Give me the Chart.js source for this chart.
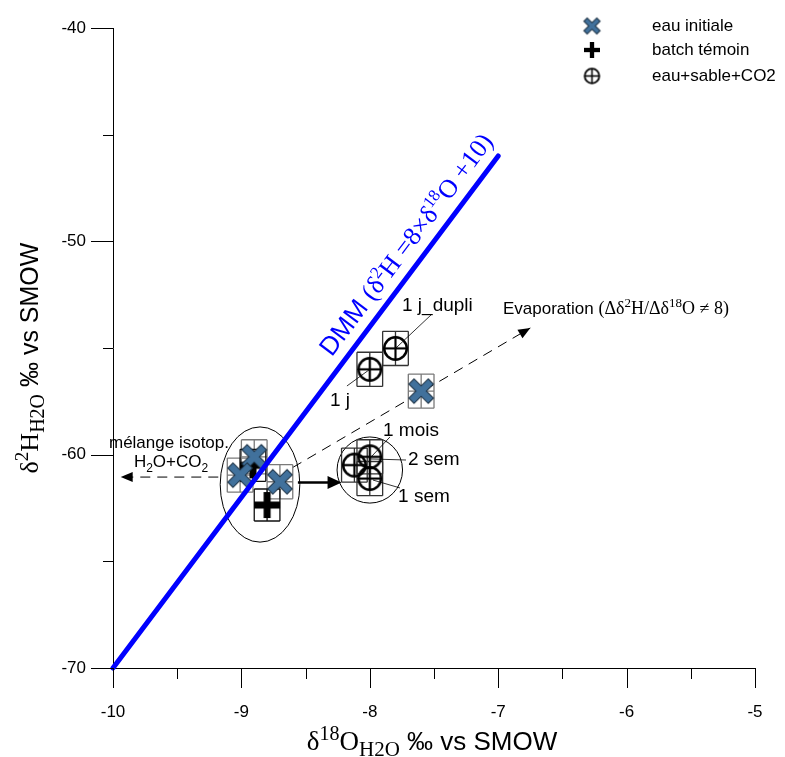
<!DOCTYPE html>
<html>
<head>
<meta charset="utf-8">
<script src="https://cdn.jsdelivr.net/npm/chart.js@4.4.0/dist/chart.umd.min.js"></script>
<style>
  html, body { margin: 0; padding: 0; background: #fff; }
  #wrap { width: 785px; height: 757px; }
</style>
</head>
<body>
<div id="wrap"><canvas id="c"></canvas></div>
<script>
// --- DATA ---
const initX = [-8.90, -9.01, -8.70, -7.60];
const initY = [-60.10, -60.96, -61.27, -57.02];
const initErrX = [0.1, 0.1, 0.1, 0.1];
const initErrY = [0.8, 0.8, 0.8, 0.8];

const batchX = [-8.91, -8.80];
const batchY = [-60.50, -62.36];
const batchErrX = [0.1, 0.1];
const batchErrY = [0.75, 0.75];

const sableX = [-8.00, -7.80, -8.00, -8.12, -8.00];
const sableY = [-56.00, -55.02, -60.10, -60.49, -61.12];
const sableErrX = [0.1, 0.1, 0.1, 0.1, 0.1];
const sableErrY = [0.8, 0.8, 0.8, 0.8, 0.8];
const sableLabels = ['1 j', '1 j_dupli', '1 mois', '2 sem', '1 sem'];

const dmmX = [-10, -7];
const dmmY = [-70, -46];

const xTicks = [-10, -9, -8, -7, -6, -5];
const yTicks = [-70, -60, -50, -40];
const legendLabels = ['eau initiale', 'batch témoin', 'eau+sable+CO2'];

// --- ANNOTATIONS (data coords) ---
const labelNotes = [
    { at: [-8.31, -57.72], from: [-8.178, -56.78], to: [-8.00, -56.00] },
    { at: [-7.749, -53.27], from: [-7.80, -55.02], to: [-7.516, -53.41] },
    { at: [-7.897, -59.13], from: [-7.843, -59.17], to: [-7.998, -60.16] },
    { at: [-7.703, -60.48], from: [-8.00, -60.20], to: [-7.718, -60.25] },
    { at: [-7.78, -62.22], from: [-7.975, -61.19], to: [-7.765, -61.56] }
];
const groupEllipses = [
    { cx: -8.855, cy: -61.40, rx: 0.31, ry: 2.70 },
    { cx: -8.00, cy: -60.72, rx: 0.255, ry: 1.55 }
];

const SANS = '"Liberation Sans", Arial, sans-serif';
const SERIF = '"Liberation Serif", "Times New Roman", serif';
const BLUE_X = '#41719c';

// --- MARQUEURS ---
function makeMarker(type, s) {
    const cv = document.createElement('canvas');
    const size = Math.ceil(s + 4);
    cv.width = size; cv.height = size;
    const g = cv.getContext('2d');
    const c = size / 2;
    if (type === 'x') {
        const a = s * 0.36;
        g.lineCap = 'butt';
        g.strokeStyle = '#1e3346'; g.lineWidth = s * 0.3;
        g.beginPath(); g.moveTo(c - a, c - a); g.lineTo(c + a, c + a);
        g.moveTo(c + a, c - a); g.lineTo(c - a, c + a); g.stroke();
        const b = a - 0.8;
        g.strokeStyle = BLUE_X; g.lineWidth = s * 0.3 - 2;
        g.beginPath(); g.moveTo(c - b, c - b); g.lineTo(c + b, c + b);
        g.moveTo(c + b, c - b); g.lineTo(c - b, c + b); g.stroke();
    } else if (type === 'plus') {
        const a = s / 2, t = s * 0.27;
        g.fillStyle = '#000';
        g.fillRect(c - a, c - t / 2, 2 * a, t);
        g.fillRect(c - t / 2, c - a, t, 2 * a);
    } else {
        const r = s / 2 - 1.2;
        g.strokeStyle = '#000'; g.lineWidth = Math.max(1.8, s * 0.1);
        g.beginPath(); g.arc(c, c, r, 0, Math.PI * 2); g.stroke();
        g.lineWidth = Math.max(1.5, s * 0.08);
        g.beginPath(); g.moveTo(c - r, c); g.lineTo(c + r, c);
        g.moveTo(c, c - r); g.lineTo(c, c + r); g.stroke();
    }
    return cv;
}

const mkX = makeMarker('x', 28), mkPlus = makeMarker('plus', 26), mkCirc = makeMarker('circ', 25);
const legX = makeMarker('x', 19), legPlus = makeMarker('plus', 16), legCirc = makeMarker('circ', 17);

// --- HELPERS ---
function drawRich(ctx, parts, x, y, align) {
    let w = 0;
    parts.forEach(p => { ctx.font = p.f; w += ctx.measureText(p.t).width; });
    let cx = align === 'center' ? x - w / 2 : (align === 'right' ? x - w : x);
    ctx.textAlign = 'left';
    ctx.textBaseline = 'alphabetic';
    parts.forEach(p => {
        ctx.font = p.f;
        ctx.fillText(p.t, cx, y + (p.dy || 0));
        cx += ctx.measureText(p.t).width;
    });
}

function arrowHead(ctx, x1, y1, x2, y2, len, half) {
    const ang = Math.atan2(y2 - y1, x2 - x1);
    ctx.beginPath();
    ctx.moveTo(x2, y2);
    ctx.lineTo(x2 - len * Math.cos(ang) + half * Math.sin(ang), y2 - len * Math.sin(ang) - half * Math.cos(ang));
    ctx.lineTo(x2 - len * Math.cos(ang) - half * Math.sin(ang), y2 - len * Math.sin(ang) + half * Math.cos(ang));
    ctx.closePath();
    ctx.fill();
}

function errorBars(ctx, xs, ys, X, Y, EX, EY, color) {
    ctx.strokeStyle = color;
    ctx.lineWidth = 1.3;
    X.forEach((v, i) => {
        const cx = xs.getPixelForValue(v), cy = ys.getPixelForValue(Y[i]);
        const x0 = xs.getPixelForValue(v - EX[i]), x1 = xs.getPixelForValue(v + EX[i]);
        const y0 = ys.getPixelForValue(Y[i] + EY[i]), y1 = ys.getPixelForValue(Y[i] - EY[i]);
        ctx.beginPath();
        ctx.moveTo(cx, y0); ctx.lineTo(cx, y1);
        ctx.moveTo(x0, y0); ctx.lineTo(x1, y0);
        ctx.moveTo(x0, y1); ctx.lineTo(x1, y1);
        ctx.moveTo(x0, cy); ctx.lineTo(x1, cy);
        ctx.moveTo(x0, y0); ctx.lineTo(x0, y1);
        ctx.moveTo(x1, y0); ctx.lineTo(x1, y1);
        ctx.stroke();
    });
}

const toPts = (X, Y) => X.map((v, i) => ({ x: v, y: Y[i] }));

// --- PLUGIN DECOR ---
const decor = {
    id: 'decor',
    beforeDatasetsDraw(chart) {
        const ctx = chart.ctx, xs = chart.scales.x, ys = chart.scales.y;
        const P = (x, y) => [xs.getPixelForValue(x), ys.getPixelForValue(y)];
        ctx.save();
        // ellipses
        ctx.strokeStyle = '#000'; ctx.lineWidth = 1;
        groupEllipses.forEach(e => {
            const [cx, cy] = P(e.cx, e.cy);
            const rx = Math.abs(xs.getPixelForValue(e.cx + e.rx) - cx);
            const ry = Math.abs(ys.getPixelForValue(e.cy + e.ry) - cy);
            ctx.beginPath(); ctx.ellipse(cx, cy, rx, ry, 0, 0, Math.PI * 2); ctx.stroke();
        });
        // fleches pointillees
        ctx.fillStyle = '#000';
        ctx.setLineDash([10, 7]);
        let [a1, b1] = P(-8.6, -60.6), [a2, b2] = P(-6.75, -54.06);
        ctx.beginPath(); ctx.moveTo(a1, b1); ctx.lineTo(a2, b2); ctx.stroke();
        ctx.setLineDash([]);
        arrowHead(ctx, a1, b1, a2, b2, 12, 5);
        ctx.setLineDash([10, 7]);
        [a1, b1] = P(-9.18, -61.05); [a2, b2] = P(-9.94, -61.05);
        ctx.beginPath(); ctx.moveTo(a1, b1); ctx.lineTo(a2 + 8, b2); ctx.stroke();
        ctx.setLineDash([]);
        arrowHead(ctx, a1, b1, a2, b2, 12, 5);
        // fleche pleine
        ctx.lineWidth = 2.5;
        [a1, b1] = P(-8.56, -61.3); [a2, b2] = P(-8.22, -61.3);
        ctx.beginPath(); ctx.moveTo(a1, b1); ctx.lineTo(a2 - 8, b2); ctx.stroke();
        arrowHead(ctx, a1, b1, a2, b2, 14, 6.5);
        // barres d'erreur
        errorBars(ctx, xs, ys, initX, initY, initErrX, initErrY, '#7a7a7a');
        errorBars(ctx, xs, ys, batchX, batchY, batchErrX, batchErrY, '#111');
        errorBars(ctx, xs, ys, sableX, sableY, sableErrX, sableErrY, '#333');
        ctx.restore();
    },
    afterDraw(chart) {
        const ctx = chart.ctx, xs = chart.scales.x, ys = chart.scales.y;
        const P = (x, y) => [xs.getPixelForValue(x), ys.getPixelForValue(y)];
        const area = chart.chartArea;
        ctx.save();
        ctx.fillStyle = '#000'; ctx.strokeStyle = '#000'; ctx.lineWidth = 1;

        // graduations
        ctx.beginPath();
        for (let v = -10; v <= -5 + 1e-9; v += 0.5) {
            const px = Math.round(xs.getPixelForValue(v)) + 0.5;
            const major = Math.abs(v - Math.round(v)) < 1e-6;
            ctx.moveTo(px, area.bottom); ctx.lineTo(px, area.bottom + (major ? 20 : 11));
        }
        for (let v = -70; v <= -40; v += 5) {
            const py = Math.round(ys.getPixelForValue(v)) + 0.5;
            const major = v % 10 === 0;
            ctx.moveTo(area.left, py); ctx.lineTo(area.left - (major ? 22 : 10), py);
        }
        ctx.stroke();

        // etiquettes des points
        ctx.lineWidth = 0.8;
        labelNotes.forEach((n, i) => {
            const [fx, fy] = P(n.from[0], n.from[1]), [tx, ty] = P(n.to[0], n.to[1]);
            ctx.beginPath(); ctx.moveTo(fx, fy); ctx.lineTo(tx, ty); ctx.stroke();
            const [lx, ly] = P(n.at[0], n.at[1]);
            ctx.font = '19px ' + SANS; ctx.textAlign = 'left'; ctx.textBaseline = 'alphabetic';
            ctx.fillText(sableLabels[i], lx, ly);
        });

        // texte DMM
        const [d1x, d1y] = P(dmmX[0], dmmY[0]), [d2x, d2y] = P(dmmX[1], dmmY[1]);
        const th = Math.atan2(d2y - d1y, d2x - d1x);
        const [ax, ay] = P(-7.59, -50.72);
        ctx.save();
        ctx.translate(ax + Math.sin(th) * 12, ay - Math.cos(th) * 12);
        ctx.rotate(th);
        ctx.fillStyle = '#0000ff';
        drawRich(ctx, [
            { t: 'DMM ', f: '26px ' + SANS },
            { t: '(δ', f: '26px ' + SERIF },
            { t: '2', f: '17px ' + SERIF, dy: -10 },
            { t: 'H =8×δ', f: '26px ' + SERIF },
            { t: '18', f: '17px ' + SERIF, dy: -10 },
            { t: 'O +10)', f: '26px ' + SERIF }
        ], 0, 0, 'center');
        ctx.restore();

        // evaporation
        let [ex, ey] = P(-6.963, -53.41);
        drawRich(ctx, [
            { t: 'Evaporation ', f: '17px ' + SANS },
            { t: '(Δδ', f: '18px ' + SERIF },
            { t: '2', f: '13px ' + SERIF, dy: -7 },
            { t: 'H/Δδ', f: '18px ' + SERIF },
            { t: '18', f: '13px ' + SERIF, dy: -7 },
            { t: 'O ≠ 8)', f: '18px ' + SERIF }
        ], ex, ey, 'left');

        // melange
        [ex, ey] = P(-9.564, -59.41);
        drawRich(ctx, [{ t: 'mélange isotop.', f: '17px ' + SANS }], ex, ey + 6, 'center');
        [ex, ey] = P(-9.548, -60.34);
        drawRich(ctx, [
            { t: 'H', f: '17px ' + SANS },
            { t: '2', f: '12px ' + SANS, dy: 5 },
            { t: 'O+CO', f: '17px ' + SANS },
            { t: '2', f: '12px ' + SANS, dy: 5 }
        ], ex, ey + 5, 'center');

        // legende
        const legMk = [legX, legPlus, legCirc];
        const legY = [26, 50, 76];
        legMk.forEach((m, i) => {
            ctx.drawImage(m, 592 - m.width / 2, legY[i] - m.height / 2);
            ctx.font = '17px ' + SANS; ctx.textAlign = 'left'; ctx.textBaseline = 'middle';
            ctx.fillText(legendLabels[i], 652, legY[i]);
        });

        // titres des axes
        drawRich(ctx, [
            { t: 'δ', f: '27px ' + SERIF },
            { t: '18', f: '20px ' + SERIF, dy: -10 },
            { t: 'O', f: '27px ' + SERIF },
            { t: 'H', f: '21px ' + SERIF, dy: 6 },
            { t: '2', f: '21px ' + SERIF, dy: 6 },
            { t: 'O', f: '21px ' + SERIF, dy: 6 },
            { t: ' ‰ vs SMOW', f: '26px ' + SANS }
        ], 432, 750, 'center');
        ctx.save();
        ctx.translate(38, 358);
        ctx.rotate(-Math.PI / 2);
        drawRich(ctx, [
            { t: 'δ', f: '26px ' + SERIF },
            { t: '2', f: '19px ' + SERIF, dy: -10 },
            { t: 'H', f: '26px ' + SERIF },
            { t: 'H', f: '20px ' + SERIF, dy: 6 },
            { t: '2', f: '20px ' + SERIF, dy: 6 },
            { t: 'O', f: '20px ' + SERIF, dy: 6 },
            { t: ' ‰ vs SMOW', f: '25px ' + SANS }
        ], 0, 0, 'center');
        ctx.restore();
        ctx.restore();
    }
};

// --- GRAPHIQUE ---
new Chart(document.getElementById('c'), {
    type: 'scatter',
    data: {
        datasets: [
            { label: 'DMM', data: toPts(dmmX, dmmY), showLine: true, borderColor: '#0000ff', borderWidth: 5,
              pointRadius: 0, borderCapStyle: 'round', clip: false, order: 0 },
            { label: legendLabels[0], data: toPts(initX, initY), pointStyle: mkX, order: 2 },
            { label: legendLabels[1], data: toPts(batchX, batchY), pointStyle: mkPlus, order: 3 },
            { label: legendLabels[2], data: toPts(sableX, sableY), pointStyle: mkCirc, order: 1 }
        ]
    },
    options: {
        responsive: true,
        maintainAspectRatio: false,
        animation: false,
        events: [],
        layout: { padding: { left: 0, top: 28, right: 30, bottom: 0 } },
        plugins: { legend: { display: false }, tooltip: { enabled: false } },
        scales: {
            x: {
                type: 'linear', min: -10, max: -5,
                afterBuildTicks: s => { s.ticks = xTicks.map(v => ({ value: v })); },
                ticks: { color: '#000', font: { family: SANS, size: 17 }, padding: 4, maxRotation: 0, autoSkip: false },
                grid: { display: false, drawTicks: true, tickLength: 30 },
                border: { display: true, color: '#000', width: 1 },
                afterFit: s => { s.height = 89; }
            },
            y: {
                type: 'linear', min: -70, max: -40,
                afterBuildTicks: s => { s.ticks = yTicks.map(v => ({ value: v })); },
                ticks: { color: '#000', font: { family: SANS, size: 17 }, padding: 5 },
                grid: { display: false, drawTicks: true, tickLength: 22 },
                border: { display: true, color: '#000', width: 1 },
                afterFit: s => { s.width = 113; }
            }
        }
    },
    plugins: [decor]
});
</script>
</body>
</html>
